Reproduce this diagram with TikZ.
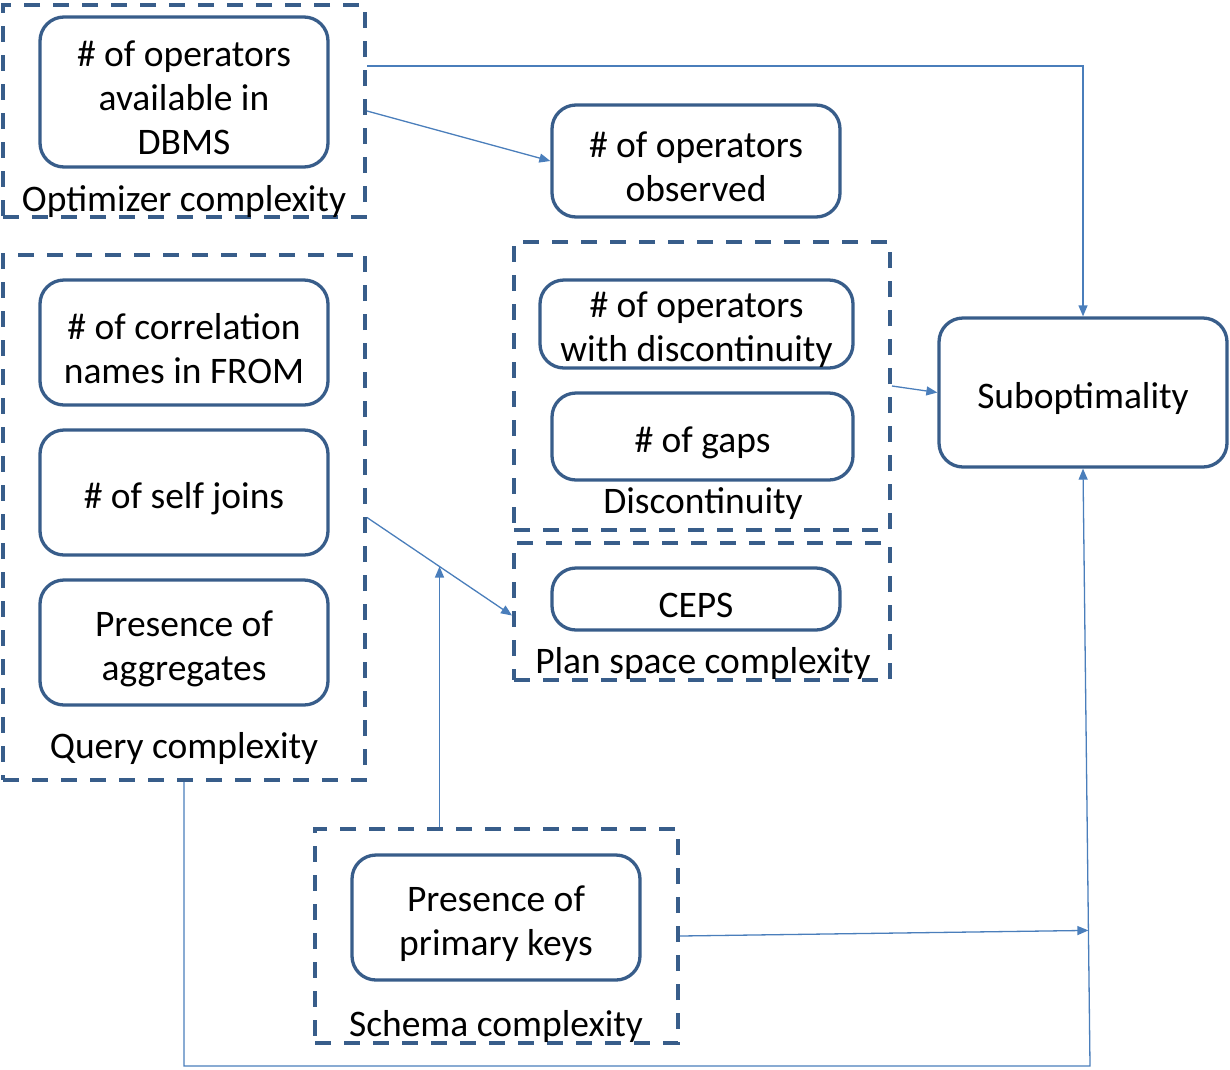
\documentclass[tikz,border=0pt]{standalone}
\usepackage{fontspec}
\setmainfont{Carlito}
\usetikzlibrary{calc,arrows.meta}
\definecolor{boxblue}{RGB}{56,93,138}
\definecolor{arrblue}{RGB}{74,126,187}
\begin{document}
\begin{tikzpicture}[x=1pt,y=-1pt,
  txt/.style={font=\fontsize{37.5}{44}\selectfont, align=center, inner sep=0pt},
  rbox/.style={draw=boxblue, line width=3.3pt, rounded corners=24pt, fill=white, inner sep=0pt,
    label={[txt,yshift=-6pt]center:{#1}}},
  group/.style={draw=boxblue, line width=4pt, dash pattern=on 16pt off 13pt, inner sep=0pt},
  lbl/.style={txt},
  arr/.style={draw=arrblue, line width=1.3pt, -{Triangle[length=11pt,width=9pt]}}]
\useasboundingbox (0,0) rectangle (1230,1069);
% group boxes
\node[group, minimum width=362pt, minimum height=212pt] (opt) at (184,111) {};
\node[group, minimum width=362pt, minimum height=525pt] (query) at (184,517.5) {};
\node[group, minimum width=376pt, minimum height=288pt] (disc) at (702,386) {};
\node[group, minimum width=376pt, minimum height=137pt] (plan) at (702,611.5) {};
\node[group, minimum width=363pt, minimum height=214pt] (schema) at (496.5,936) {};
% labels
\node[lbl] (optl) at (184,201) {Optimizer complexity};
\node[lbl] (queryl) at (184,748) {Query complexity};
\node[lbl] (discl) at (703,504) {Discontinuity};
\node[lbl] (planl) at (703,663) {Plan space complexity};
\node[lbl] (schemal) at (496,1026) {Schema complexity};
% rounded boxes
\node[rbox={\# of operators\\available in\\DBMS}, minimum width=288pt, minimum height=150pt] (dbms) at (184,92) {};
\node[rbox={\# of operators\\observed}, minimum width=288pt, minimum height=112pt] (obs) at (696,161) {};
\node[rbox={\# of correlation\\names in FROM}, minimum width=288pt, minimum height=125pt] (corr) at (184,342.5) {};
\node[rbox={\# of self joins}, minimum width=288pt, minimum height=125pt] (self) at (184,492.5) {};
\node[rbox={Presence of\\aggregates}, minimum width=288pt, minimum height=125pt] (aggr) at (184,642.5) {};
\node[rbox={\# of operators\\with discontinuity}, minimum width=313pt, minimum height=88pt] (dop) at (696.5,324) {};
\node[rbox={\# of gaps}, minimum width=301pt, minimum height=87pt] (gaps) at (702.5,436.5) {};
\node[rbox={CEPS}, minimum width=288pt, minimum height=62pt] (ceps) at (696,599) {};
\node[rbox={Suboptimality}, minimum width=288pt, minimum height=149pt] (sub) at (1083,392.5) {};
\node[rbox={Presence of\\primary keys}, minimum width=288pt, minimum height=125pt] (pk) at (496,917.5) {};
% connectors
\draw[arr] ([yshift=-63pt]opt.north east) -| (sub.north);
\draw[arr] (opt.east) -- (obs.west);
\draw[arr] (disc.east) -- (sub.west);
\draw[arr] (query.east) -- ([yshift=-4pt]plan.west);
\coordinate (m) at ($(query.east)!0.5!([yshift=-4pt]plan.west)$);
\draw[arr] (schema.north -| m) -- (m);
\coordinate (c1) at (184,1066);
\coordinate (c2) at (1090,1066);
\draw[arr] (query.south) -- (c1) -- (c2) -- (sub.south);
\coordinate (c3) at ($(c2)!0.227!(sub.south)$);
\draw[arr] (schema.east) -- (c3);
\end{tikzpicture}
\end{document}
